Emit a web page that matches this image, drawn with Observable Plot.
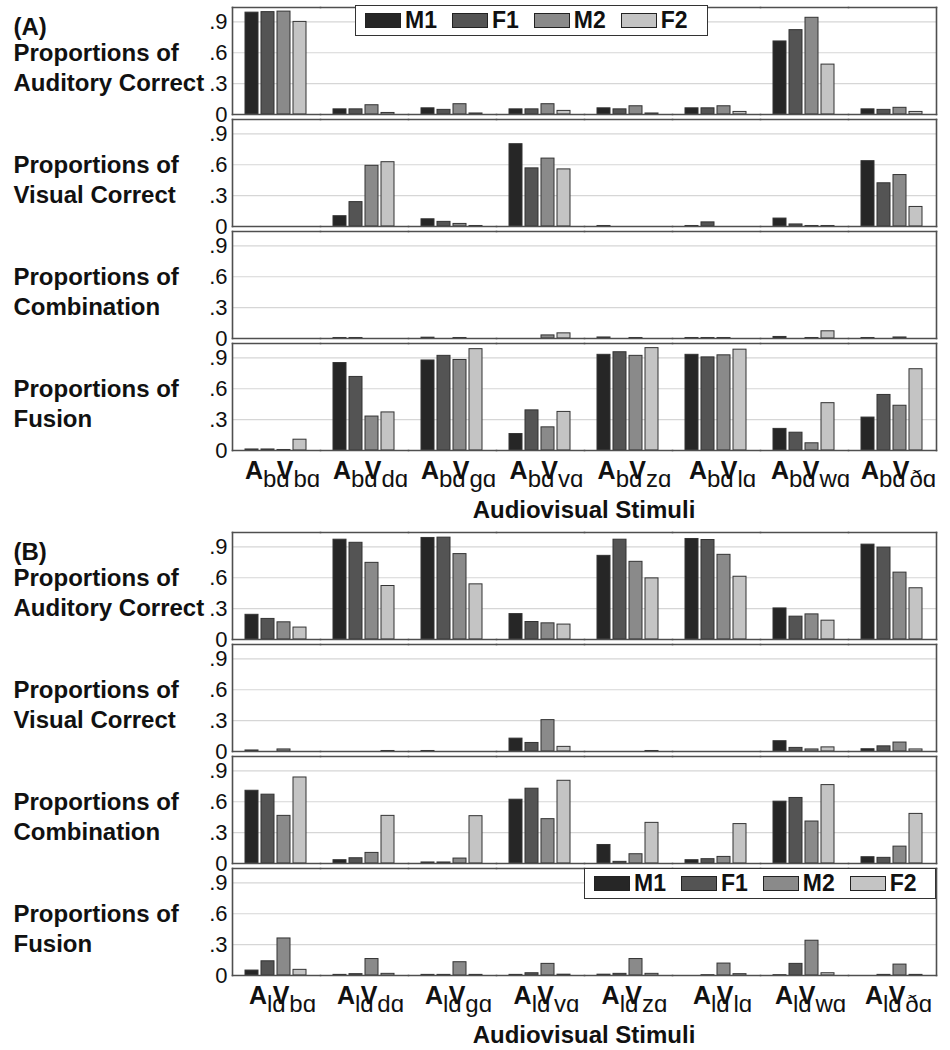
<!DOCTYPE html>
<html>
<head>
<meta charset="utf-8">
<script src="https://cdn.jsdelivr.net/npm/d3@7"></script>
<script src="https://cdn.jsdelivr.net/npm/@observablehq/plot@0.6"></script>
<style>
  body { margin: 0; background: #fff; font-family: "Liberation Sans", Arial, sans-serif; }
  #wrap { position: relative; width: 950px; height: 1050px; }
  .panel { position: absolute; left: 0; width: 950px; height: 525px; }
  .legend { position: absolute; box-sizing: border-box; height: 31px; border: 1.5px solid #333; background: #fff;
            display: flex; align-items: center; padding-left: 9px; gap: 15px; }
  .legend .item { display: flex; align-items: center; gap: 4px; font-weight: bold; font-size: 23px; color: #111; }
  .legend .sw { width: 34px; height: 13px; border: 1px solid #222; }
  .xtitle { position: absolute; left: 232px; width: 704px; text-align: center; font-weight: bold; font-size: 24px;
            line-height: 24px; color: #111; }
</style>
</head>
<body>
<div id="wrap"></div>
<script>
// ---- data ----
const series = ["M1", "F1", "M2", "F2"];
const seriesColors = ["#262626", "#545454", "#8a8a8a", "#c4c4c4"];
const visualSyllables = ["bɑ", "dɑ", "gɑ", "vɑ", "zɑ", "lɑ", "wɑ", "ðɑ"];
const measures = ["Auditory Correct", "Visual Correct", "Combination", "Fusion"];
const auditoryA = "bɑ";
const auditoryB = "lɑ";
const yTicks = [0, 0.3, 0.6, 0.9];
const xTitle = "Audiovisual Stimuli";

// rows: stimulus groups (visualSyllables order); columns: M1, F1, M2, F2
const A_auditoryCorrect = [
  [0.99, 0.995, 1.0, 0.90],
  [0.05, 0.05, 0.09, 0.015],
  [0.06, 0.045, 0.10, 0.01],
  [0.05, 0.05, 0.10, 0.035],
  [0.06, 0.05, 0.08, 0.01],
  [0.06, 0.06, 0.08, 0.025],
  [0.71, 0.82, 0.94, 0.485],
  [0.05, 0.045, 0.065, 0.025]
];
const A_visualCorrect = [
  [0, 0, 0, 0],
  [0.10, 0.237, 0.59, 0.625],
  [0.07, 0.045, 0.025, 0.005],
  [0.80, 0.565, 0.66, 0.555],
  [0.005, 0, 0, 0],
  [0.005, 0.04, 0, 0],
  [0.077, 0.02, 0.005, 0.005],
  [0.635, 0.42, 0.50, 0.19]
];
const A_combination = [
  [0, 0, 0, 0],
  [0.005, 0.005, 0, 0],
  [0.008, 0, 0.005, 0],
  [0, 0, 0.03, 0.05],
  [0.01, 0, 0.005, 0],
  [0.005, 0.005, 0.005, 0],
  [0.015, 0, 0.005, 0.07],
  [0.005, 0, 0.01, 0]
];
const A_fusion = [
  [0.01, 0.01, 0.005, 0.105],
  [0.85, 0.715, 0.33, 0.37],
  [0.875, 0.92, 0.88, 0.985],
  [0.16, 0.39, 0.225, 0.375],
  [0.93, 0.955, 0.92, 0.995],
  [0.93, 0.905, 0.925, 0.98],
  [0.21, 0.173, 0.07, 0.46],
  [0.32, 0.54, 0.435, 0.79]
];
const B_auditoryCorrect = [
  [0.24, 0.20, 0.167, 0.116],
  [0.97, 0.94, 0.745, 0.52],
  [0.987, 0.99, 0.83, 0.536],
  [0.247, 0.17, 0.157, 0.145],
  [0.813, 0.97, 0.755, 0.594],
  [0.977, 0.967, 0.823, 0.61],
  [0.302, 0.222, 0.244, 0.183],
  [0.922, 0.893, 0.65, 0.498]
];
const B_visualCorrect = [
  [0.01, 0, 0.02, 0],
  [0, 0, 0, 0.005],
  [0.005, 0, 0, 0],
  [0.125, 0.083, 0.305, 0.045],
  [0, 0, 0, 0.005],
  [0, 0, 0, 0],
  [0.10, 0.035, 0.02, 0.04],
  [0.022, 0.05, 0.087, 0.02]
];
const B_combination = [
  [0.707, 0.669, 0.463, 0.836],
  [0.032, 0.051, 0.103, 0.463],
  [0.01, 0.01, 0.048, 0.46],
  [0.62, 0.727, 0.431, 0.804],
  [0.18, 0.016, 0.09, 0.395],
  [0.032, 0.042, 0.064, 0.383],
  [0.601, 0.637, 0.408, 0.762],
  [0.061, 0.055, 0.164, 0.482]
];
const B_fusion = [
  [0.048, 0.138, 0.36, 0.055],
  [0.006, 0.013, 0.16, 0.016],
  [0.006, 0.006, 0.129, 0.006],
  [0.006, 0.022, 0.113, 0.008],
  [0.008, 0.016, 0.16, 0.016],
  [0, 0.003, 0.116, 0.013],
  [0.003, 0.113, 0.338, 0.022],
  [0, 0.006, 0.106, 0.006]
];

// ---- chart ----
const FONT = '"Liberation Sans", Arial, Helvetica, sans-serif';
const wrap = document.getElementById("wrap");

function makePanel(top, panelLabel, aud, tables, legendTop, legendLeft, legendWidth) {
  const data = [];
  measures.forEach((m, mi) =>
    tables[mi].forEach((row, gi) =>
      row.forEach((v, si) => data.push({measure: m, group: visualSyllables[gi], series: series[si], value: v}))));
  const rowLabels = measures.map(m => ({measure: m, text: "Proportions of\n" + m}));
  const frameStyle = {stroke: "#4f4f4f", strokeWidth: 1.6};

  const plot = Plot.plot({
    width: 950, height: 525,
    marginLeft: 232, marginRight: 14, marginTop: 5, marginBottom: 73,
    style: {fontFamily: FONT, background: "transparent", overflow: "visible", color: "#111"},
    fx: {domain: visualSyllables, padding: 0, label: null, axis: null},
    fy: {domain: measures, paddingInner: 0.0442, paddingOuter: 0, label: null, axis: null},
    x: {domain: series, paddingInner: 0.17, paddingOuter: 0.835, axis: null},
    y: {domain: [0, 1.04], axis: null},
    color: {domain: series, range: seriesColors},
    marks: [
      Plot.gridY({ticks: [0.3, 0.6, 0.9], stroke: "#d6d6d6", strokeOpacity: 1, strokeWidth: 1.2}),
      Plot.barY(data, {fx: "group", fy: "measure", x: "series", y: "value", fill: "series",
                       stroke: "#333", strokeWidth: 1}),
      Plot.frame({anchor: "top", ...frameStyle}),
      Plot.frame({anchor: "bottom", ...frameStyle}),
      Plot.frame({anchor: "left", facetAnchor: "left", ...frameStyle}),
      Plot.frame({anchor: "right", facetAnchor: "right", ...frameStyle}),
      Plot.axisY({anchor: "left", ticks: yTicks, tickSize: 0, tickPadding: 5, fontSize: 22, label: null,
                  tickFormat: d => d === 0 ? "0" : String(d).replace(/^0/, "")}),
      Plot.axisFx({anchor: "bottom", tickSize: 0, tickPadding: 11, fontSize: 24, label: null, dx: 6,
                   tickFormat: g => aud + "|" + g}),
      Plot.text(rowLabels, {fy: "measure", text: "text", frameAnchor: "left", facetAnchor: "left",
                            textAnchor: "start", lineAnchor: "middle", dx: -219, dy: 5, fontSize: 24,
                            fontWeight: "bold", lineHeight: 1.25}),
      Plot.text([{measure: measures[0], t: panelLabel}], {fy: "measure", text: "t", frameAnchor: "top-left",
                            facetAnchor: "left", textAnchor: "start", lineAnchor: "middle", dx: -219, dy: 20,
                            fontSize: 24, fontWeight: "bold"})
    ]
  });

  // compose stimulus tick labels: A_sub V_sub
  d3.select(plot).selectAll("text").each(function () {
    const t = d3.select(this);
    const s = t.text();
    if (!s.includes("|")) return;
    const [a, v] = s.split("|");
    t.text(null);
    t.append("tspan").attr("font-weight", "bold").attr("font-size", 25).text("A");
    t.append("tspan").attr("font-size", 24).attr("dy", 8).text(a);
    t.append("tspan").attr("font-weight", "bold").attr("font-size", 25).attr("dy", -8).attr("dx", -13).text("V");
    t.append("tspan").attr("font-size", 24).attr("dy", 8).text(v);
  });

  const panel = document.createElement("div");
  panel.className = "panel";
  panel.style.top = top + "px";
  panel.appendChild(plot);

  const legend = document.createElement("div");
  legend.className = "legend";
  legend.style.top = legendTop + "px";
  legend.style.left = legendLeft + "px";
  legend.style.width = legendWidth + "px";
  series.forEach((s, i) => {
    const item = document.createElement("div");
    item.className = "item";
    const sw = document.createElement("span");
    sw.className = "sw";
    sw.style.background = seriesColors[i];
    const lab = document.createElement("span");
    lab.textContent = s;
    item.appendChild(sw); item.appendChild(lab);
    legend.appendChild(item);
  });
  panel.appendChild(legend);

  const title = document.createElement("div");
  title.className = "xtitle";
  title.style.top = "498px";
  title.textContent = xTitle;
  panel.appendChild(title);

  wrap.appendChild(panel);
}

makePanel(0, "(A)", auditoryA, [A_auditoryCorrect, A_visualCorrect, A_combination, A_fusion], 5, 355, 353);
makePanel(525, "(B)", auditoryB, [B_auditoryCorrect, B_visualCorrect, B_combination, B_fusion], 343, 584, 352);
</script>
</body>
</html>
